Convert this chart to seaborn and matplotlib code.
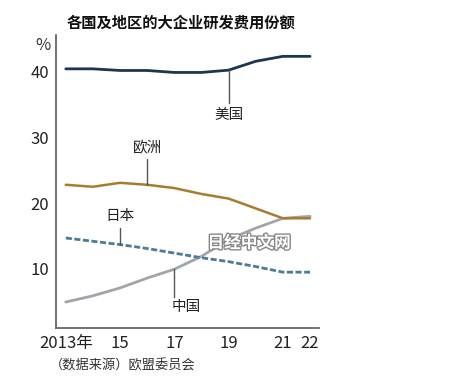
import matplotlib
matplotlib.use("Agg")
import matplotlib.pyplot as plt
import matplotlib.patheffects as pe
import seaborn as sns
import pandas as pd

sns.set_style("white")
plt.rcParams['font.family'] = ['Liberation Sans Narrow', 'Noto Sans CJK SC', 'DejaVu Sans']

years = [2013, 2014, 2015, 2016, 2017, 2018, 2019, 2020, 2021, 2022]
us = [40.45, 40.45, 40.2, 40.2, 39.9, 39.9, 40.25, 41.6, 42.35, 42.35]
europe = [22.8, 22.5, 23.1, 22.8, 22.3, 21.4, 20.7, 19.2, 17.7, 17.7]
japan = [14.7, 14.2, 13.7, 13.1, 12.4, 11.7, 11.1, 10.35, 9.5, 9.5]
china = [4.95, 5.9, 7.1, 8.6, 9.95, 11.9, 14.5, 16.2, 17.7, 18.0]
tick_years = [2013, 2015, 2017, 2019, 2021, 2022]
tick_labels = ["2013年", "15", "17", "19", "21", "22"]
yticks = [10, 20, 30, 40]

df = pd.DataFrame({"year": years, "美国": us, "欧洲": europe, "日本": japan, "中国": china})
long = df.melt(id_vars="year", var_name="region", value_name="share")

colors = {"美国": "#1d3550", "欧洲": "#a87c2c", "日本": "#4d7b97", "中国": "#a3a3ab"}

fig = plt.figure(figsize=(4.61, 3.88), dpi=100)
ax = fig.add_axes([56/461, 60/388, (319-56)/461, (328-35)/388])

for reg in ["中国", "日本", "欧洲", "美国"]:
    sub = long[long.region == reg]
    sns.lineplot(data=sub, x="year", y="share", ax=ax, color=colors[reg],
                 lw=2.0 if reg != "欧洲" else 1.8, legend=False,
                 linestyle=(0, (2.2, 0.9)) if reg == "日本" else "-")

ax.set_xlim(2012.64, 2022.33)
ax.set_ylim(1.0, 45.6)
ax.set_xlabel("")
ax.set_ylabel("")
ax.set_xticks(years, minor=False)
ax.set_xticklabels(["" if y not in tick_years else tick_labels[tick_years.index(y)] for y in years])
ax.set_yticks(yticks)
ax.set_yticklabels([str(v) for v in yticks])
ax.tick_params(axis="x", direction="in", length=4, width=1, color="#555555", labelsize=12, pad=5, labelcolor="#222222")
ax.tick_params(axis="y", direction="out", length=3, width=1, color="#555555", labelsize=12, pad=2, labelcolor="#222222")
for s in ["top", "right"]:
    ax.spines[s].set_visible(False)
for s in ["left", "bottom"]:
    ax.spines[s].set_color("#666666")
    ax.spines[s].set_linewidth(1.3)

# leader lines and labels
lab_kw = dict(fontsize=10.5, color="#222222", family=['Noto Sans CJK SC'])
ax.plot([2019, 2019], [40.25, 35.3], color="#555555", lw=1)
ax.text(2019, 33.4, "美国", ha="center", va="center", **lab_kw)
ax.plot([2016, 2016], [22.8, 26.8], color="#555555", lw=1)
ax.text(2016, 28.3, "欧洲", ha="center", va="center", **lab_kw)
ax.plot([2015, 2015], [13.7, 16.2], color="#555555", lw=1)
ax.text(2015, 18.0, "日本", ha="center", va="center", **lab_kw)
ax.plot([2017, 2017], [9.95, 5.7], color="#555555", lw=1)
ax.text(2017.45, 4.2, "中国", ha="center", va="center", **lab_kw)

fig.text(67/461, 1 - 23/388, "各国及地区的大企业研发费用份额", fontsize=11, fontweight="bold",
         family=['Noto Sans CJK SC'], ha="left", va="center", color="#111111")
fig.text(43/461, 1 - 45/388, "%", fontsize=12, ha="center", va="center", color="#333333")
fig.text(50/461, 1 - 366/388, "（数据来源）欧盟委员会", fontsize=9.5, family=['Noto Sans CJK SC'],
         ha="left", va="center", color="#333333")
fig.text(249/461, 1 - 243/388, "日经中文网", fontsize=12, fontweight="bold", family=['Noto Sans CJK SC'],
         ha="center", va="center", color="white",
         path_effects=[pe.withStroke(linewidth=2, foreground="#888888")])

fig.savefig("out.png", dpi=100)
